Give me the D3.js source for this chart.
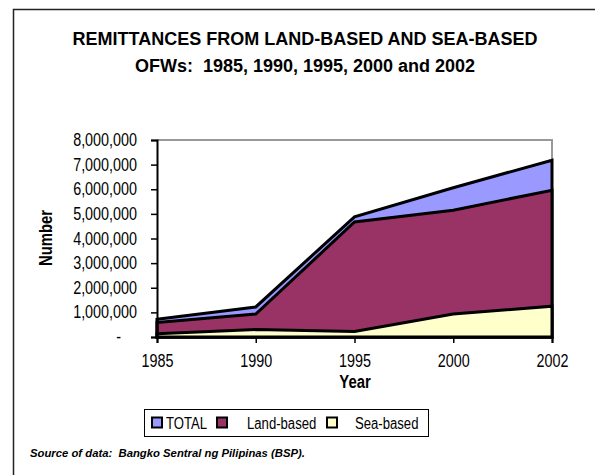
<!DOCTYPE html>
<html>
<head>
<meta charset="utf-8">
<script src="https://cdn.jsdelivr.net/npm/d3@7"></script>
<style>
  body { margin: 0; background: #fff; }
  svg { display: block; font-family: "Liberation Sans", Arial, sans-serif; }
  svg text { white-space: pre; }
</style>
</head>
<body>
<div id="chart"></div>
<script>
// Data
const years = ["1985", "1990", "1995", "2000", "2002"];
const totalValues = [720000, 1220000, 4880000, 6060000, 7180000];
const landValues = [585000, 930000, 4670000, 5150000, 5960000];
const seaValues = [130000, 300000, 220000, 930000, 1250000];
const yTicks = [0, 1000000, 2000000, 3000000, 4000000, 5000000, 6000000, 7000000, 8000000];

const series = [
  { name: "TOTAL", values: totalValues, color: "#9999FF" },
  { name: "Land-based", values: landValues, color: "#993366" },
  { name: "Sea-based", values: seaValues, color: "#FFFFCC" }
];

const width = 595, height = 475;
const plot = { left: 157, right: 552, top: 140, bottom: 337 };

// no narrow font installed: squeeze glyphs horizontally
function condense(sel, k) {
  sel.each(function () {
    const len = this.getComputedTextLength();
    d3.select(this).attr("textLength", len * k).attr("lengthAdjust", "spacingAndGlyphs");
  });
}

const svg = d3.select("#chart").append("svg")
  .attr("width", width)
  .attr("height", height);

// outer frame (only left and top visible)
svg.append("path")
  .attr("d", `M13.5,${height} L13.5,9.5 L${width},9.5`)
  .attr("fill", "none")
  .attr("stroke", "#222")
  .attr("stroke-width", 1.5);

// title
const title = svg.append("text")
  .attr("text-anchor", "middle")
  .style("font-weight", "bold")
  .style("font-size", "18px");
title.append("tspan").attr("x", 305).attr("y", 45).text("REMITTANCES FROM LAND-BASED AND SEA-BASED");
title.append("tspan").attr("x", 305).attr("y", 72).text("OFWs:  1985, 1990, 1995, 2000 and 2002");

const x = d3.scalePoint().domain(years).range([plot.left, plot.right]);
const y = d3.scaleLinear().domain([0, 8000000]).range([plot.bottom, plot.top]);

// plot border (grey top and right)
svg.append("path")
  .attr("d", `M${plot.left},${plot.top} L${plot.right},${plot.top} L${plot.right},${plot.bottom}`)
  .attr("fill", "none")
  .attr("stroke", "#999")
  .attr("stroke-width", 2);

// areas, overlapping (not stacked)
const area = d3.area()
  .x((d, i) => x(years[i]))
  .y0(y(0))
  .y1(d => y(d));

series.forEach(s => {
  svg.append("path")
    .datum(s.values)
    .attr("d", area)
    .attr("fill", s.color)
    .attr("stroke", "#000")
    .attr("stroke-width", 3)
    .attr("stroke-linejoin", "miter");
});

// y axis
const yAxis = svg.append("g")
  .attr("transform", `translate(${plot.left},0)`)
  .call(d3.axisLeft(y).tickValues(yTicks).tickSize(6).tickPadding(14)
    .tickFormat(d => d === 0 ? "-" : d3.format(",")(d)));
yAxis.attr("font-family", null);
yAxis.select(".domain").attr("stroke", "#000").attr("stroke-width", 2);
yAxis.selectAll(".tick line").attr("stroke", "#000").attr("stroke-width", 1.5);
yAxis.selectAll("text")
  .style("font-size", "17.5px")
  .attr("fill", "#000")
  .call(condense, 0.82);
yAxis.selectAll(".tick").filter(d => d === 0).select("text").attr("dx", -16);

// x axis
const xAxis = svg.append("g")
  .attr("transform", `translate(0,${plot.bottom})`)
  .call(d3.axisBottom(x).tickSize(6).tickPadding(12));
xAxis.attr("font-family", null);
xAxis.select(".domain").attr("stroke", "#000").attr("stroke-width", 2);
xAxis.selectAll(".tick line").attr("stroke", "#000").attr("stroke-width", 1.5);
xAxis.selectAll("text")
  .style("font-size", "17.5px")
  .attr("fill", "#000")
  .call(condense, 0.82);

// axis titles
svg.append("text")
  .attr("x", 355).attr("y", 388)
  .attr("text-anchor", "middle")
  .style("font-weight", "bold")
  .style("font-size", "17.5px")
  .text("Year")
  .call(condense, 0.85);

svg.append("text")
  .attr("transform", "translate(52,238) rotate(-90)")
  .attr("text-anchor", "middle")
  .style("font-weight", "bold")
  .style("font-size", "17.5px")
  .text("Number")
  .call(condense, 0.85);

// legend
const legend = svg.append("g");
legend.append("rect")
  .attr("x", 144.5).attr("y", 409.5)
  .attr("width", 284).attr("height", 27)
  .attr("fill", "#fff")
  .attr("stroke", "#000")
  .attr("stroke-width", 1);

const legendSquareX = [152, 217, 327];
const legendTextX = [166, 247, 355];
series.forEach((s, i) => {
  legend.append("rect")
    .attr("x", legendSquareX[i]).attr("y", 417.5)
    .attr("width", 10).attr("height", 10)
    .attr("fill", s.color)
    .attr("stroke", "#000")
    .attr("stroke-width", 2);
  legend.append("text")
    .attr("x", legendTextX[i]).attr("y", 429)
    .style("font-size", "16px")
    .text(s.name)
    .call(condense, 0.82);
});

// source note
svg.append("text")
  .attr("x", 30).attr("y", 457)
  .style("font-weight", "bold")
  .style("font-style", "italic")
  .style("font-size", "11.3px")
  .text("Source of data:  Bangko Sentral ng Pilipinas (BSP).");
</script>
</body>
</html>
